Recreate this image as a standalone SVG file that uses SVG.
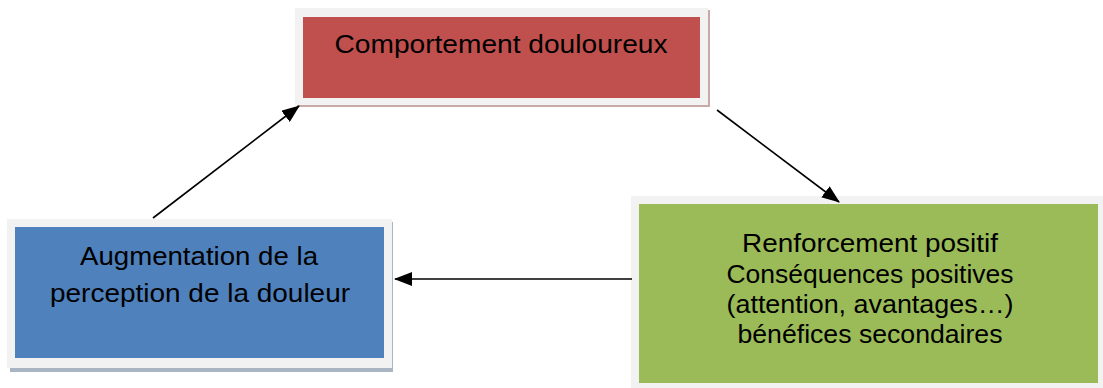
<svg xmlns="http://www.w3.org/2000/svg" width="1103" height="388" viewBox="0 0 1103 388">
<style>
.frame{fill:#f2f2f2}
.t{font-family:"Liberation Sans",Arial,sans-serif;font-size:25px;fill:#000;text-anchor:middle}
.c{stroke:#000;stroke-width:1.6;fill:none;marker-end:url(#ah)}
</style>
<defs>
<marker id="ah" viewBox="0 0 18 14" refX="17" refY="7" markerWidth="18" markerHeight="14" markerUnits="userSpaceOnUse" orient="auto">
<path d="M0,0 L18,7 L0,14 Z" fill="#000"/>
</marker>
</defs>
<rect width="1103" height="388" fill="#fff"/>
<g id="node-comportement">
<rect x="297" y="10" width="413" height="97" fill="#c9a8a8"/>
<rect class="frame" x="295" y="8" width="413" height="97"/>
<rect x="303" y="17" width="397" height="81" fill="#c0504d"/>
<text class="t" x="501" y="53" textLength="333" lengthAdjust="spacingAndGlyphs">Comportement douloureux</text>
</g>
<g id="node-augmentation">
<rect x="10" y="222" width="383" height="150" fill="#aab5c4"/>
<rect class="frame" x="7" y="219" width="385" height="149"/>
<rect x="15" y="227" width="369" height="131" fill="#4f81bd"/>
<text class="t" x="199" y="265" textLength="238" lengthAdjust="spacingAndGlyphs">Augmentation de la</text>
<text class="t" x="200" y="302" textLength="300" lengthAdjust="spacingAndGlyphs">perception de la douleur</text>
</g>
<g id="node-renforcement">
<rect class="frame" x="631" y="196" width="472" height="192"/>
<rect x="639" y="204" width="459" height="179" fill="#9bbb59"/>
<text class="t" x="870" y="252" textLength="256" lengthAdjust="spacingAndGlyphs">Renforcement positif</text>
<text class="t" x="870" y="283" textLength="287" lengthAdjust="spacingAndGlyphs">Conséquences positives</text>
<text class="t" x="870" y="313" textLength="287" lengthAdjust="spacingAndGlyphs">(attention, avantages…)</text>
<text class="t" x="870" y="343" textLength="265" lengthAdjust="spacingAndGlyphs">bénéfices secondaires</text>
</g>
<g id="connectors">
<line class="c" x1="153" y1="218" x2="299" y2="106"/>
<line class="c" x1="717" y1="110" x2="839" y2="202"/>
<line class="c" x1="632" y1="279" x2="395" y2="279"/>
</g>
</svg>
